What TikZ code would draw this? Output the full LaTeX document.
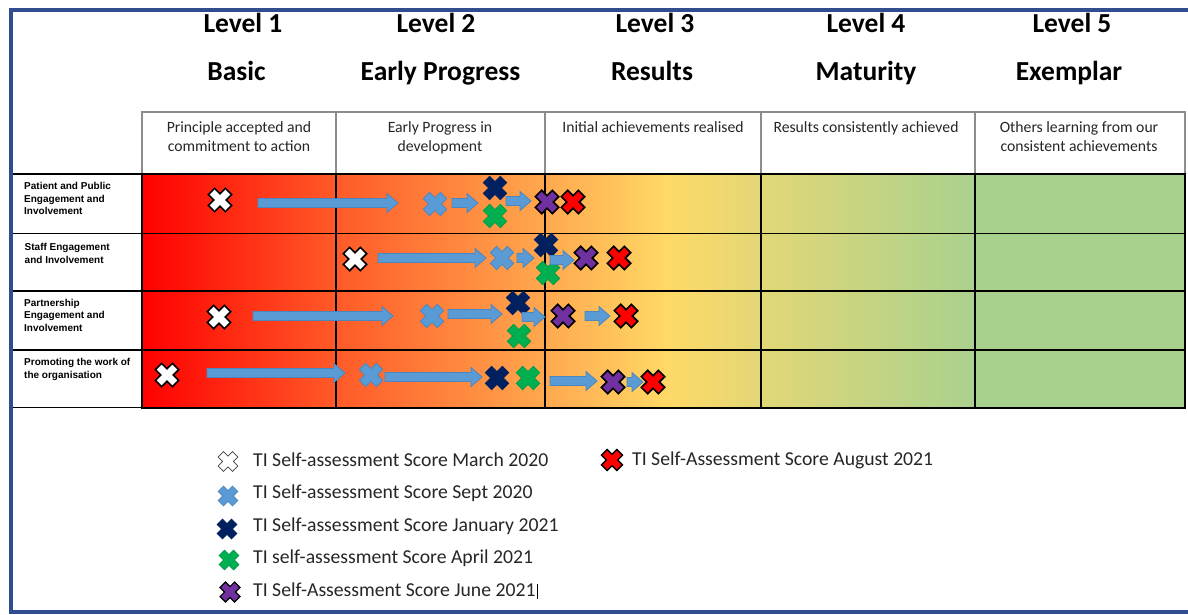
\documentclass[tikz,border=0pt]{standalone}
\usepackage{fontspec}
\setmainfont{Carlito}
\newfontfamily\arialb{Liberation Sans}
\definecolor{frameblue}{HTML}{2F4D8F}
\definecolor{lblue}{HTML}{5B9BD5}
\definecolor{lblueD}{HTML}{4A86C0}
\definecolor{navy}{HTML}{002060}
\definecolor{xgreen}{HTML}{00B050}
\definecolor{xgreenD}{HTML}{009A46}
\definecolor{xpurple}{HTML}{7030A0}
\definecolor{xred}{HTML}{FF0000}
\definecolor{txtgray}{HTML}{262626}
\definecolor{descline}{HTML}{8C8C8C}
\definecolor{gA}{HTML}{FF0000}
\definecolor{gB}{HTML}{FF5A28}
\definecolor{gC}{HTML}{FFA84E}
\definecolor{gD}{HTML}{FFD966}
\definecolor{gE}{HTML}{E2D776}
\definecolor{gF}{HTML}{A9D18E}
\pgfdeclarehorizontalshading{levels}{100bp}{color(0bp)=(gA); color(25bp)=(gA); color(34.3bp)=(gB); color(44.3bp)=(gC); color(50.2bp)=(gD); color(54.65bp)=(gE); color(64.95bp)=(gF); color(75bp)=(gF); color(100bp)=(gF)}
\newcommand\barrow[3]{\path[blockarrow] (#1,#3-4.5) -- (#2-11,#3-4.5) -- (#2-11,#3-9.5) -- (#2,#3) -- (#2-11,#3+9.5) -- (#2-11,#3+4.5) -- (#1,#3+4.5) -- cycle;}
\begin{document}
\begin{tikzpicture}[x=1pt,y=-1pt,
  hdr/.style={font=\fontsize{27.5}{30}\selectfont\bfseries, text=black, inner sep=0, anchor=base},
  desc/.style={font=\fontsize{15.7}{19.5}\selectfont, text=txtgray, align=center, inner sep=0, anchor=north},
  rowlab/.style={font=\arialb\bfseries\fontsize{10}{12.4}\selectfont, align=left, anchor=north west, inner sep=0, text=black},
  leg/.style={font=\fontsize{19.7}{22}\selectfont, text=txtgray, anchor=base west, inner sep=0},
  blockarrow/.style={fill=lblue, draw=lblueD, line width=0.8pt, line join=miter},
  xmark/.pic={\path[pic actions, rotate=45] (-4.5,-12) -- (4.5,-12) -- (4.5,-4.5) -- (12,-4.5) -- (12,4.5) -- (4.5,4.5) -- (4.5,12) -- (-4.5,12) -- (-4.5,4.5) -- (-12,4.5) -- (-12,-4.5) -- (-4.5,-4.5) -- cycle;},
  mwhite/.style={fill=white, draw=black, line width=1.6pt},
  mblue/.style={fill=lblue, draw=lblueD, line width=0.8pt},
  mnavy/.style={fill=navy, draw=navy, line width=0.8pt},
  mgreen/.style={fill=xgreen, draw=xgreenD, line width=0.8pt},
  mpurple/.style={fill=xpurple, draw=black, line width=1.6pt},
  mred/.style={fill=xred, draw=black, line width=1.6pt},
  gridline/.style={draw=black, line width=1.4pt},
]
\useasboundingbox (0,0) rectangle (1188,615);
\fill[white] (0,0) rectangle (1188,615);
% frame
\draw[frameblue, line width=4.5pt] (1190,10) -- (11,10) -- (11,612) -- (1190,612);

% headers
\node[hdr] (h1a) at (243,33) {Level 1};
\node[hdr] (h1b) at (236.5,81) {Basic};
\node[hdr] (h2a) at (436,33) {Level 2};
\node[hdr] (h2b) at (440.5,81) {Early Progress};
\node[hdr] (h3a) at (655,33) {Level 3};
\node[hdr] (h3b) at (652,81) {Results};
\node[hdr] (h4a) at (866,33) {Level 4};
\node[hdr] (h4b) at (866,81) {Maturity};
\node[hdr] (h5a) at (1072,33) {Level 5};
\node[hdr] (h5b) at (1069,81) {Exemplar};

% description table
\draw[descline, line width=1.5pt] (142,112) rectangle (1185,174);
\foreach \xx in {336,545,761,975} \draw[descline, line width=1.5pt] (\xx,112) -- (\xx,174);
\node[desc] (d1) at (239,121) {Principle accepted and\\commitment to action};
\node[desc] (d2) at (440,121) {Early Progress in\\development};
\node[desc] (d3) at (653,121) {Initial achievements realised};
\node[desc] (d4) at (866,121) {Results consistently achieved};
\node[desc] (d5) at (1079,121) {Others learning from our\\consistent achievements};

% grid shading
\shade[shading=levels] (142,174) rectangle (1185,408);
\foreach \yy in {233.5,291,350} \draw[gridline] (142,\yy) -- (1185,\yy);
\foreach \xx in {336,545,761,975} \draw[gridline] (\xx,174) -- (\xx,408);
\draw[black, line width=2.2pt] (142,174) rectangle (1185,408);
% label column lines
\foreach \yy in {174,233.5,291,350,407.5} \draw[black, line width=1.3pt] (13,\yy) -- (142,\yy);

% row labels
\node[rowlab] (r1) at (24,182.3) {Patient and Public\\Engagement and\\Involvement};
\node[rowlab] (r2) at (24.5,243.3) {Staff Engagement\\and Involvement};
\node[rowlab] (r3) at (24,299) {Partnership\\Engagement and\\Involvement};
\node[rowlab] (r4) at (24,358.3) {Promoting the work of\\the organisation};

% row 1
\pic[mwhite] at (220,200) {xmark};
\pic[mblue] at (435,204) {xmark};
\pic[mnavy] at (495,188) {xmark};
\pic[mgreen] at (495,216) {xmark};
\barrow{258}{398}{203}
\barrow{452}{478}{203}
\barrow{506}{531}{201}
\pic[mpurple] at (547,202) {xmark};
\pic[mred] at (573,202) {xmark};

% row 2
\pic[mwhite] at (355,259) {xmark};
\pic[mblue] at (502,258) {xmark};
\pic[mnavy] at (546,245) {xmark};
\pic[mgreen] at (548,273) {xmark};
\barrow{378}{486}{258}
\barrow{517}{534}{258}
\barrow{550}{574}{260}
\pic[mpurple] at (586,258) {xmark};
\pic[mred] at (619,258) {xmark};

% row 3
\pic[mwhite] at (219,317) {xmark};
\pic[mblue] at (432,316) {xmark};
\pic[mnavy] at (518,303) {xmark};
\pic[mgreen] at (519,336) {xmark};
\barrow{253}{393}{316}
\barrow{448}{502}{314}
\barrow{522}{545}{317}
\barrow{585}{610}{316}
\pic[mpurple] at (563,316) {xmark};
\pic[mred] at (626,316) {xmark};

% row 4
\pic[mwhite] at (167,375) {xmark};
\pic[mblue] at (371,375) {xmark};
\pic[mnavy] at (497,378) {xmark};
\pic[mgreen] at (528,378) {xmark};
\barrow{207}{345}{373}
\barrow{385}{482}{377}
\barrow{550}{597}{381}
\barrow{627}{643}{382}
\pic[mpurple] at (613,382) {xmark};
\pic[mred] at (653,382) {xmark};

% legend
\pic[fill=white, draw=black!75, line width=0.8pt, scale=0.85] at (228,461.5) {xmark};
\pic[mblue, scale=0.85] at (228,496) {xmark};
\pic[mnavy, scale=0.85] at (227,529) {xmark};
\pic[mgreen, scale=0.85] at (229,560) {xmark};
\pic[fill=xpurple, draw=black, line width=1.2pt, scale=0.85] at (230,592) {xmark};
\pic[fill=xred, draw=black, line width=1.4pt, scale=0.9] at (612,460) {xmark};
\node[leg] (l1) at (253,466) {TI Self-assessment Score March 2020};
\node[leg] (l2) at (253,498.5) {TI Self-assessment Score Sept 2020};
\node[leg] (l3) at (253,531) {TI Self-assessment Score January 2021};
\node[leg] (l4) at (253,563.5) {TI self-assessment Score April 2021};
\node[leg] (l5) at (253,596) {TI Self-Assessment Score June 2021};
\node[leg] (l6) at (632,465) {TI Self-Assessment Score August 2021};
\coordinate (cur) at ([xshift=1.5pt]l5.base east);
\draw[black, line width=0.6pt] ([yshift=-3pt]cur) -- ([yshift=12pt]cur);
\end{tikzpicture}
\end{document}
